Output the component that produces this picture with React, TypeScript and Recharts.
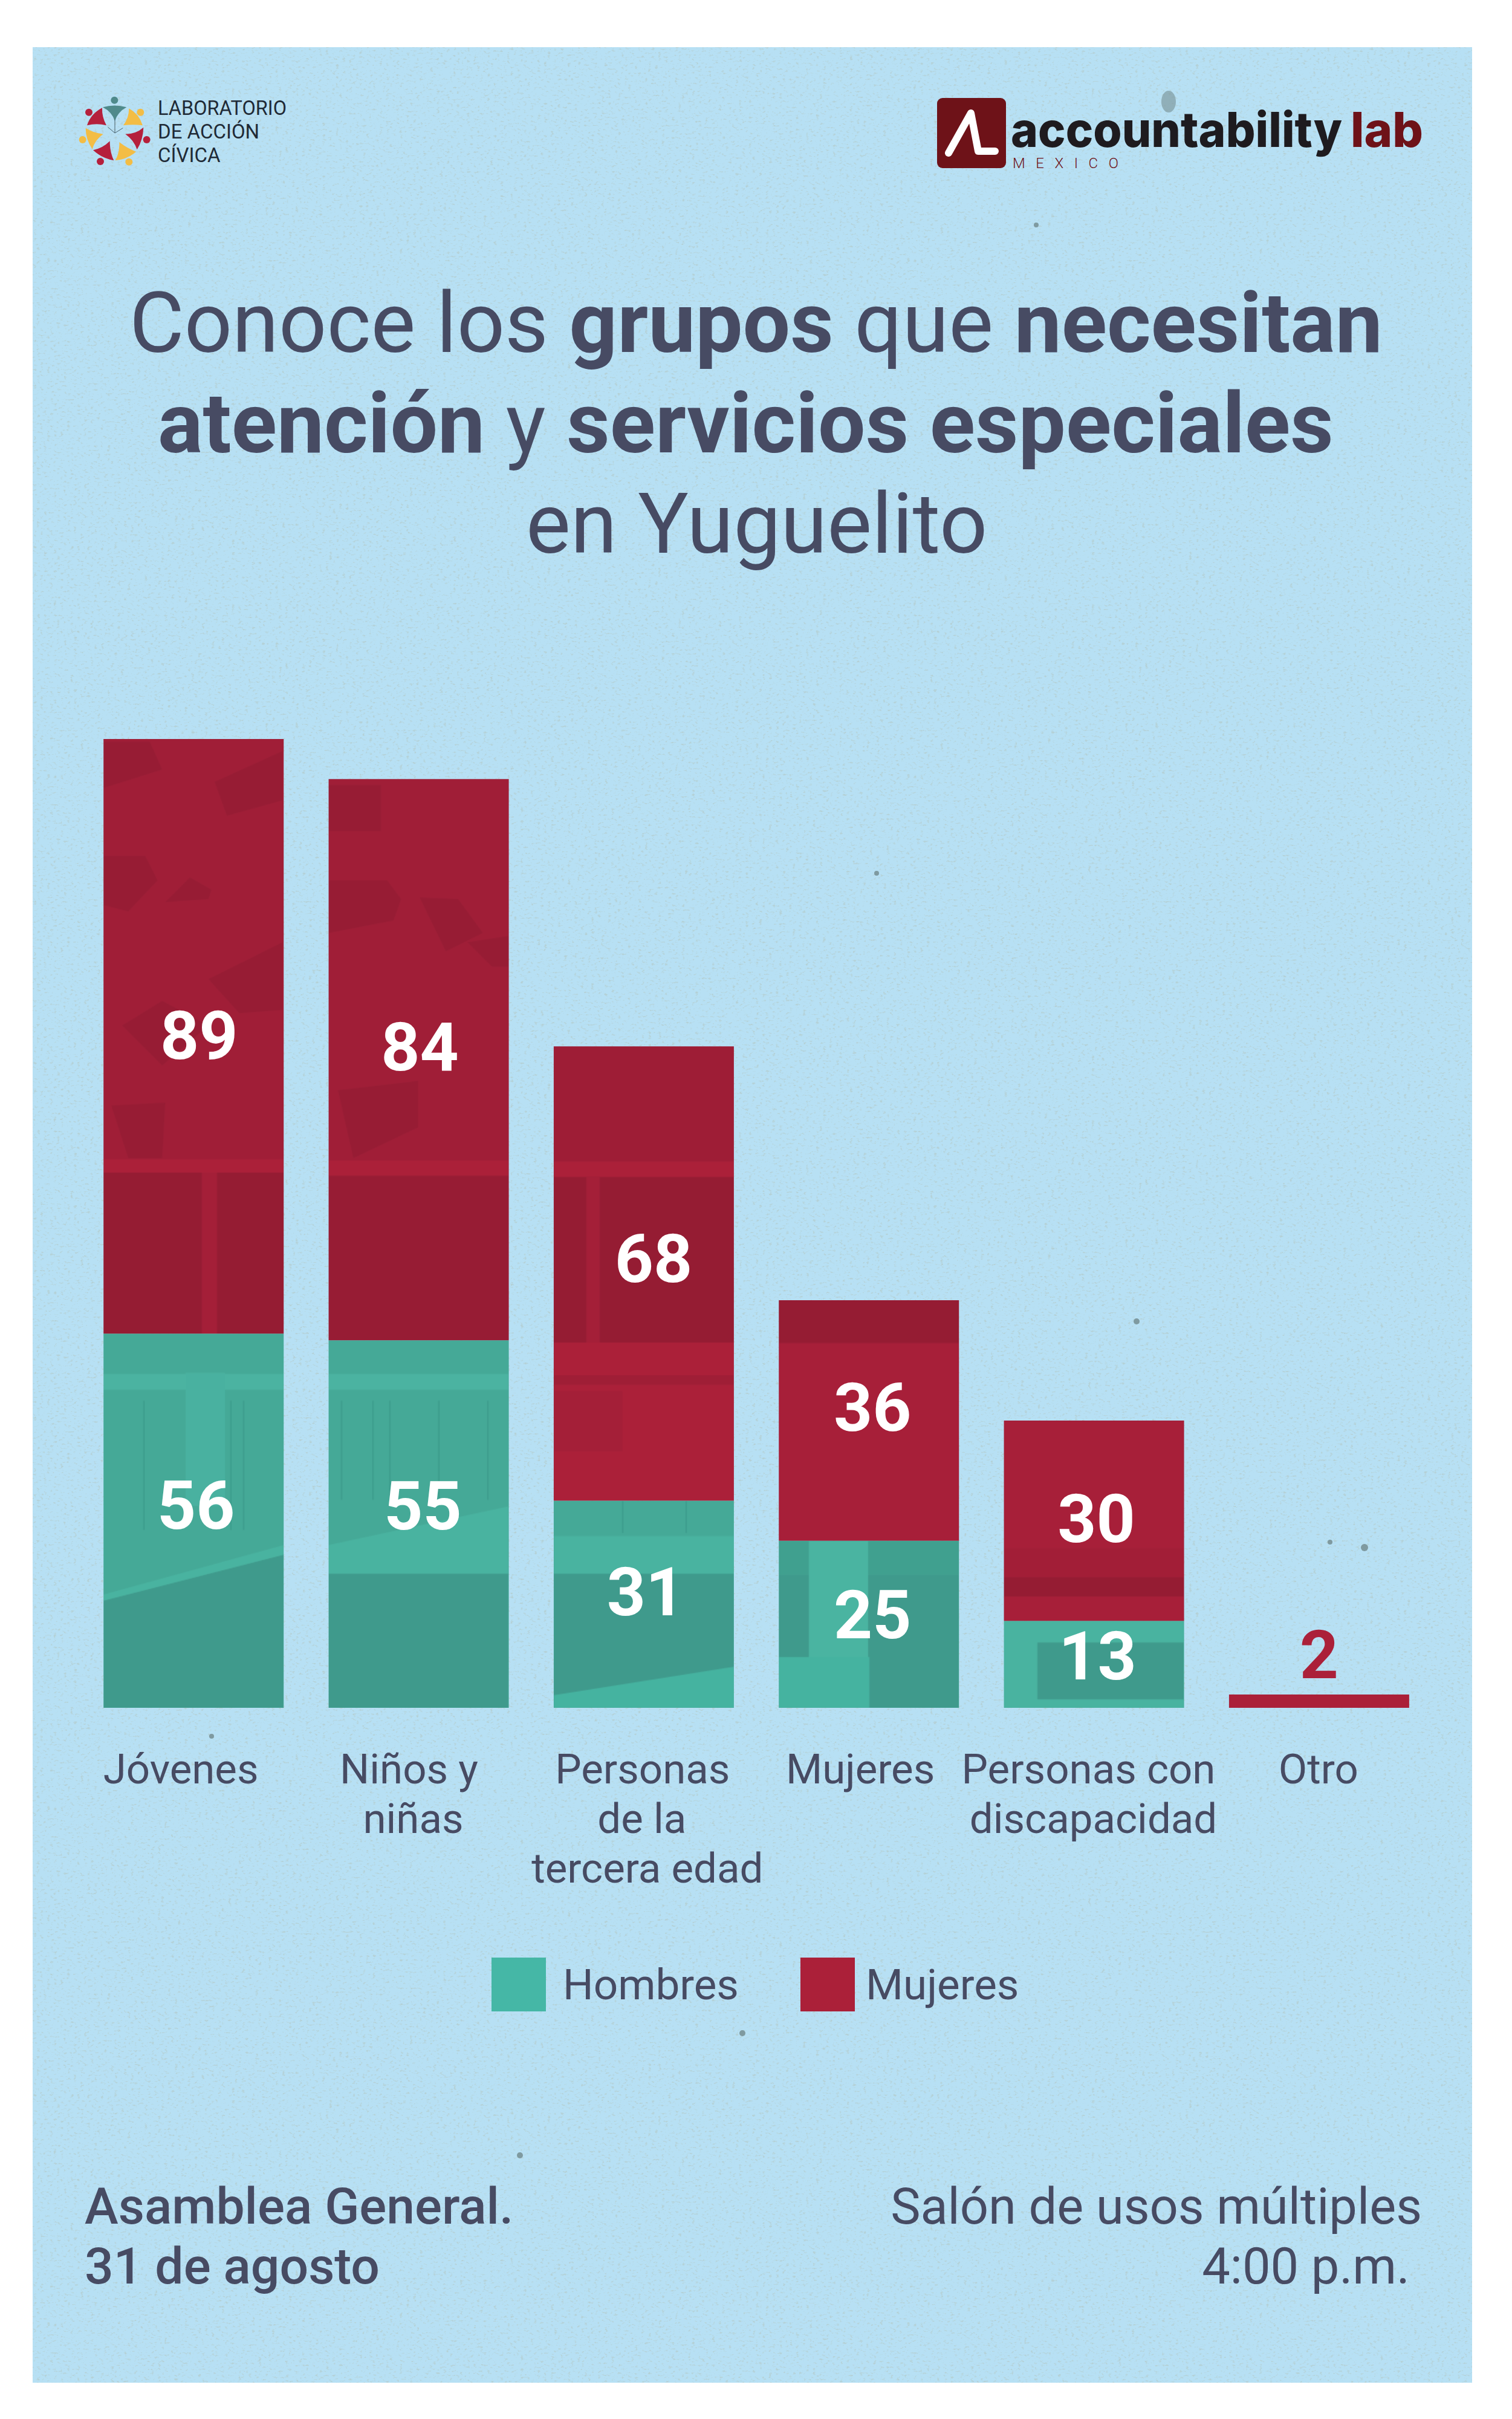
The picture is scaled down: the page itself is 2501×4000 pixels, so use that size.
import React from 'react';
import { BarChart, Bar, XAxis, YAxis, Legend, LabelList } from 'recharts';

const CATEGORIES = ['Jóvenes', 'Niños y niñas', 'Personas de la tercera edad', 'Mujeres', 'Personas con discapacidad', 'Otro'];
const HOMBRES = [56, 55, 31, 25, 13, 0];
const MUJERES = [89, 84, 68, 36, 30, 2];
const TICK_LINES = [['Jóvenes'], ['Niños y', 'niñas'], ['Personas', 'de la', 'tercera edad'], ['Mujeres'], ['Personas con', 'discapacidad'], ['Otro']];

// the poster's labels sit by hand, not on the bar centres
const TICK_NUDGE = [[-21], [-16, -9], [-2, -3, 6], [-14], [-9, -1], [-1]];
const HOMBRES_NUDGE = [[4, -27], [7, -31], [3, -22], [6, -17], [6, -15], [0, 0]];
const MUJERES_NUDGE = [[9, -3], [2, -22], [16, -26], [6, -23], [4, -5], [0, -78]];

const INK = '#474b63';
const RED = '#ab2039';
const GREEN = '#45b7a6';
const FONT = 'Roboto, sans-serif';
const LEGEND_COLORS: Record<string, string> = { Hombres: GREEN, Mujeres: RED };

const data = CATEGORIES.map((name, i) => ({ name, Hombres: HOMBRES[i], Mujeres: MUJERES[i] }));

function CategoryTick({ x, y, index }: any) {
  return (
    <g fontFamily={FONT} fontSize={69} fill={INK} textAnchor="middle">
      {TICK_LINES[index].map((line, i) => (
        <text key={line} x={x + TICK_NUDGE[index][i]} y={y + 125 + i * 82}>
          {line}
        </text>
      ))}
    </g>
  );
}

function valueLabel(nudge: number[][]) {
  return function ValueLabel({ x, y, width, height, value, index }: any) {
    if (!value) return null;
    return (
      <text
        x={x + width / 2 + nudge[index][0]}
        y={y + height / 2 + nudge[index][1] + 40}
        textAnchor="middle"
        fontFamily={FONT}
        fontWeight={700}
        fontSize={112}
        fill={value === 2 ? RED : '#ffffff'}
      >
        {value}
      </text>
    );
  };
}

function PosterLegend({ payload }: any) {
  return (
    <div style={{ display: 'flex', fontFamily: FONT, fontSize: 71, color: INK, lineHeight: '89px' }}>
      {(payload || []).map((entry: any, i: number) => (
        <div key={entry.value} style={{ display: 'flex', width: i === 0 ? 511 : 400 }}>
          <span style={{ width: 90, height: 89, background: LEGEND_COLORS[entry.value], marginRight: i === 0 ? 28 : 18 }} />
          <span>{entry.value}</span>
        </div>
      ))}
    </div>
  );
}

// photo of a wooden bench that shows through the bars, coordinates are page pixels
function PhotoPatterns() {
  return (
    <defs>
      <pattern id="redPhoto" patternUnits="userSpaceOnUse" width={2501} height={4000}>
        <rect width={2501} height={4000} fill="#a01e37" />
        <g transform="translate(100 1150) scale(0.51)" fill="#971c34">
          <polygon points="140,520 275,520 315,600 220,700 140,680" />
          <polygon points="200,1070 330,990 480,1070 330,1200" />
          <polygon points="480,920 720,800 720,1020 580,1030" />
          <polygon points="500,280 720,180 720,340 540,390" />
          <polygon points="340,670 420,590 490,630 480,660" />
          <polygon points="165,1330 340,1320 330,1500 220,1500" />
          <polygon points="140,150 290,150 330,240 140,300" />
          <polygon points="870,600 1060,600 1105,660 1080,730 870,770" />
          <polygon points="1165,655 1290,660 1370,770 1250,830" />
          <polygon points="900,1280 1160,1250 1160,1400 950,1500" />
          <polygon points="870,290 1040,290 1040,440 870,440" />
          <polygon points="1320,800 1453,780 1453,880 1400,880" />
        </g>
        <rect x={171} y={1939} width={298} height={268} fill="#951c33" />
        <rect x={543} y={1944} width={298} height={273} fill="#971c34" />
        <rect x={916} y={1730} width={298} height={191} fill="#9e1d36" />
        <rect x={916} y={1946} width={298} height={274} fill="#951c33" />
        <rect x={171} y={1917} width={298} height={22} fill={RED} />
        <rect x={334} y={1939} width={25} height={268} fill="#a41f38" />
        <rect x={543} y={1919} width={298} height={25} fill={RED} />
        <rect x={916} y={1921} width={298} height={25} fill={RED} />
        <rect x={970} y={1946} width={22} height={274} fill="#a41f38" />
        <rect x={916} y={2220} width={298} height={262} fill={RED} />
        <rect x={916} y={2274} width={298} height={16} fill="#9f1e36" />
        <polygon points="916,2300 1030,2300 1030,2400 916,2400" fill="#a41f38" />
        <rect x={1288} y={2150} width={298} height={71} fill="#951c33" />
        <rect x={1288} y={2221} width={298} height={327} fill="#a71f39" />
        <rect x={1660} y={2350} width={298} height={331} fill="#a71f39" />
        <rect x={1660} y={2560} width={298} height={48} fill="#a21e37" />
        <rect x={1660} y={2608} width={298} height={32} fill="#951c33" />
        <rect x={2033} y={2790} width={298} height={40} fill={RED} />
      </pattern>
      <pattern id="greenPhoto" patternUnits="userSpaceOnUse" width={2501} height={4000}>
        <rect width={2501} height={4000} fill="#45a997" />
        <polygon points="171,2647 469,2571 469,2824 171,2824" fill="#3f9a8c" />
        <polygon points="171,2637 469,2555 469,2571 171,2647" fill="#49b3a0" />
        <rect x={543} y={2602} width={298} height={222} fill="#3f9a8c" />
        <polygon points="543,2555 841,2491 841,2602 543,2602" fill="#49b3a0" />
        <rect x={916} y={2602} width={298} height={222} fill="#3f9a8c" />
        <polygon points="916,2803 1214,2756 1214,2824 916,2824" fill="#45b3a0" />
        <rect x={916} y={2540} width={298} height={62} fill="#49b3a0" />
        <rect x={171} y={2272} width={298} height={26} fill="#4bb3a1" />
        <rect x={543} y={2272} width={298} height={26} fill="#4bb3a1" />
        <rect x={307} y={2270} width={65} height={220} fill="#49b1a0" />
        <g stroke="#3b9b8b" strokeWidth={2}>
          <line x1={238} y1={2316} x2={238} y2={2530} />
          <line x1={382} y1={2316} x2={382} y2={2530} />
          <line x1={403} y1={2316} x2={403} y2={2530} />
          <line x1={565} y1={2316} x2={565} y2={2480} />
          <line x1={617} y1={2316} x2={617} y2={2480} />
          <line x1={645} y1={2316} x2={645} y2={2480} />
          <line x1={726} y1={2316} x2={726} y2={2480} />
          <line x1={807} y1={2316} x2={807} y2={2480} />
          <line x1={1030} y1={2482} x2={1030} y2={2535} />
          <line x1={1135} y1={2482} x2={1135} y2={2535} />
        </g>
        <rect x={1288} y={2548} width={298} height={56} fill="#40a08f" />
        <rect x={1288} y={2604} width={298} height={220} fill="#3f9a8c" />
        <rect x={1338} y={2548} width={98} height={276} fill="#4ab4a1" />
        <rect x={1288} y={2740} width={150} height={84} fill="#45b3a0" />
        <rect x={1660} y={2681} width={298} height={143} fill="#49b3a0" />
        <rect x={1716} y={2716} width={242} height={94} fill="#3f9a8c" />
      </pattern>
      <filter id="paper" x="0" y="0" width="100%" height="100%">
        <feTurbulence type="fractalNoise" baseFrequency="0.18 0.3" numOctaves="4" seed="4" />
        <feColorMatrix values="0 0 0 0 0.45  0 0 0 0 0.55  0 0 0 0 0.5  0 0 0 5 -2.9" />
      </filter>
    </defs>
  );
}

function LabLogo() {
  return (
    <g>
      <g transform="translate(100 120) scale(0.3333)">
        <circle cx={268} cy={137} r={18} fill="#4f8a8b" />
        <circle cx={397} cy={197} r={18} fill="#f3bd45" />
        <circle cx={428} cy={333} r={18} fill="#b5203c" />
        <circle cx={340} cy={443} r={18} fill="#f3bd45" />
        <circle cx={198} cy={441} r={18} fill="#b5203c" />
        <circle cx={110} cy={333} r={18} fill="#f3bd45" />
        <circle cx={141} cy={197} r={18} fill="#b5203c" />
        <path d="M210,172 Q268,155 328,172 Q285,195 270,240 Q255,195 210,172Z" fill="#4f8a8b" />
        <path d="M207,175 Q150,205 132,262 Q180,250 228,262 Q205,220 207,175Z" fill="#b5203c" />
        <path d="M340,178 Q390,205 408,262 Q360,255 312,262 Q340,225 340,178Z" fill="#f3bd45" />
        <path d="M412,272 Q410,335 380,382 Q365,335 322,305 Q375,305 412,272Z" fill="#b5203c" />
        <path d="M375,392 Q335,430 272,436 Q295,395 292,345 Q330,375 375,392Z" fill="#f3bd45" />
        <path d="M265,436 Q205,425 162,385 Q210,375 245,340 Q245,395 265,436Z" fill="#b5203c" />
        <path d="M158,380 Q125,330 125,275 Q165,300 212,305 Q170,335 158,380Z" fill="#f3bd45" />
        <g stroke="#47606a" strokeWidth={3}>
          <line x1={270} y1={230} x2={270} y2={300} />
          <line x1={270} y1={300} x2={235} y2={270} />
          <line x1={270} y1={300} x2={310} y2={275} />
        </g>
      </g>
      <g fontFamily="Roboto, sans-serif" fontSize={33} fill="#1f2a36">
        <text x={261} y={190} textLength={213} lengthAdjust="spacingAndGlyphs">LABORATORIO</text>
        <text x={261} y={229}>DE ACCIÓN</text>
        <text x={261} y={268}>CÍVICA</text>
      </g>
    </g>
  );
}

function AccountabilityLogo() {
  return (
    <g>
      <rect x={1550} y={162} width={114} height={116} rx={9} fill="#6e1218" />
      <path d="M1569,253 L1606,187 L1618,250 L1646,250" fill="none" stroke="#ffffff" strokeWidth={12} strokeLinecap="round" strokeLinejoin="round" />
      <g fontFamily="Inter, sans-serif" fontWeight={800} fontSize={80}>
        <text x={1672} y={243} fill="#1e1b1f" textLength={548} lengthAdjust="spacingAndGlyphs">accountability</text>
        <text x={2234} y={243} fill="#6e1218" textLength={120} lengthAdjust="spacingAndGlyphs">lab</text>
      </g>
      <text x={1675} y={278} fontFamily="Roboto, sans-serif" fontWeight={300} fontSize={24} fill="#6e1218" textLength={175}>MEXICO</text>
    </g>
  );
}

function Poster() {
  return (
    <svg width={2501} height={4000} style={{ position: 'absolute', left: 0, top: 0 }}>
      <PhotoPatterns />
      <rect width={2501} height={4000} fill="#ffffff" />
      <rect x={54} y={78} width={2381} height={3862} fill="#b7e0f4" />
      <rect x={54} y={78} width={2381} height={3862} filter="url(#paper)" opacity={0.5} />
      <g fill="#7f9aa0">
        <ellipse cx={1933} cy={168} rx={12} ry={18} opacity={0.7} />
        <circle cx={1714} cy={372} r={4} />
        <circle cx={1450} cy={1444} r={4} />
        <circle cx={1880} cy={2185} r={5} />
        <circle cx={2257} cy={2559} r={6} />
        <circle cx={2200} cy={2550} r={4} />
        <circle cx={1160} cy={2090} r={5} />
        <circle cx={1228} cy={3362} r={5} />
        <circle cx={350} cy={2871} r={4} />
        <circle cx={860} cy={3564} r={5} />
      </g>
      <LabLogo />
      <AccountabilityLogo />
      <g fontFamily={FONT} fontSize={139.3} fill={INK}>
        <text x={214} y={582}>
          Conoce los <tspan fontWeight={700}>grupos</tspan> que <tspan fontWeight={700}>necesitan</tspan>
        </text>
        <text x={261} y={748}>
          <tspan fontWeight={700}>atención</tspan> y <tspan fontWeight={700}>servicios especiales</tspan>
        </text>
        <text x={870} y={914}>en Yuguelito</text>
      </g>
      <g fontFamily={FONT} fill={INK}>
        <g fontWeight={500} fontSize={84}>
          <text x={140} y={3677}>Asamblea General.</text>
          <text x={140} y={3776}>31 de agosto</text>
        </g>
        <g fontSize={83}>
          <text x={2352} y={3677} textAnchor="end">Salón de usos múltiples</text>
          <text x={2332} y={3776} textAnchor="end">4:00 p.m.</text>
        </g>
      </g>
    </svg>
  );
}

export default function App() {
  return (
    <div style={{ position: 'absolute', left: 0, top: 0, width: 2501, height: 4000, overflow: 'hidden' }}>
      <Poster />
      <div style={{ position: 'absolute', left: 0, top: 0 }}>
        <BarChart
          width={2501}
          height={4000}
          data={data}
          barCategoryGap="10%"
          margin={{ top: 1222, right: 133, bottom: 876, left: 134 }}
        >
          <XAxis
            dataKey="name"
            height={300}
            interval={0}
            axisLine={false}
            tickLine={false}
            tickSize={0}
            tickMargin={0}
            tick={CategoryTick}
          />
          <YAxis hide domain={[0, 145]} />
          <Legend
            verticalAlign="middle"
            content={PosterLegend}
            wrapperStyle={{ left: 813, top: 3237, width: 1000 }}
          />
          <Bar dataKey="Hombres" stackId="a" fill="url(#greenPhoto)" isAnimationActive={false}>
            <LabelList dataKey="Hombres" content={valueLabel(HOMBRES_NUDGE)} />
          </Bar>
          <Bar dataKey="Mujeres" stackId="a" fill="url(#redPhoto)" isAnimationActive={false}>
            <LabelList dataKey="Mujeres" content={valueLabel(MUJERES_NUDGE)} />
          </Bar>
        </BarChart>
      </div>
    </div>
  );
}
